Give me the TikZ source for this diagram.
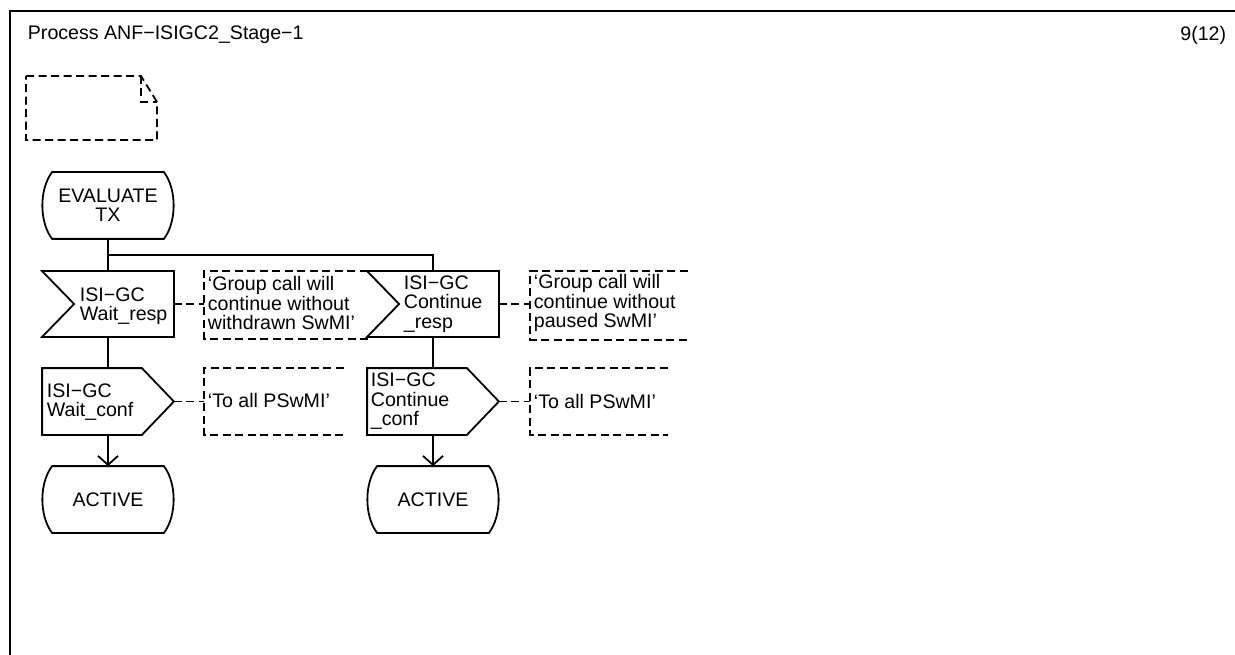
\documentclass[tikz,border=0pt]{standalone}
\usepackage{fontspec}
\setmainfont{Liberation Sans}
\usetikzlibrary{arrows.meta,calc}

\newcommand\sdlstate[1]{\draw ($(#1.north west)+(10,0)$) -- ($(#1.north east)+(-10,0)$) .. controls ($(#1.north east)+(3,17)$) and ($(#1.south east)+(3,-17)$) .. ($(#1.south east)+(-10,0)$) -- ($(#1.south west)+(10,0)$) .. controls ($(#1.south west)+(-3,-17)$) and ($(#1.north west)+(-3,17)$) .. cycle;}
\newcommand\sdlinput[1]{\draw (#1.north west) -- (#1.north east) -- (#1.south east) -- (#1.south west) -- ($(#1.west)+(32,0)$) -- cycle;}
\newcommand\sdloutput[1]{\draw (#1.north west) -- ($(#1.north east)+(-32,0)$) -- (#1.east) -- ($(#1.south east)+(-32,0)$) -- (#1.south west) -- cycle;}
\newcommand\sdlcomment[1]{\draw[cmt] (#1.north east) -- (#1.north west) -- (#1.south west) -- (#1.south east);}

\begin{document}
\begin{tikzpicture}[x=1pt,y=-1pt, line width=1.8pt,
  every node/.style={font=\fontsize{19.6}{19.5}\selectfont, inner sep=0pt},
  sym/.style={draw=none, minimum width=130pt, minimum height=65pt},
  insym/.style={sym, minimum height=64pt},
  cbox/.style={draw=none},
  txt/.style={align=left, anchor=west},
  cmt/.style={dash pattern=on 8pt off 4.5pt},
  arr/.style={-{Straight Barb[length=9pt,width=20pt]}}
]
\useasboundingbox (0,0) rectangle (1235,655);
% frame
\draw (10,655) -- (10,11) -- (1235,11);
\node[anchor=base west] (title) at (27,40) {Process ANF−ISIGC2\_Stage−1};
\node[anchor=base east] (page) at (1227,41) {9(12)};

% page symbol
\draw[cmt] (26,76) -- (141,76) -- (157,102) -- (157,140) -- (26,140) -- cycle;
\draw[cmt] (141,76) -- (141,102) -- (157,102);

% symbols
\node[sym] (ev) at (108,205.5) {};
\node[insym] (in1) at (108,304) {};
\node[sym] (out1) at (108,401.5) {};
\node[sym] (act1) at (108,499.5) {};
\node[insym] (in2) at (433,304) {};
\node[sym] (out2) at (433,401.5) {};
\node[sym] (act2) at (433,499.5) {};

\sdlstate{ev}
\sdlinput{in1}
\sdloutput{out1}
\sdlstate{act1}
\sdlinput{in2}
\sdloutput{out2}
\sdlstate{act2}

\node[align=center] (evt) at (ev.center) {EVALUATE\\TX};
\node[txt] (in1t) at (79,306) {ISI−GC\\Wait\_resp};
\node[txt] (out1t) at (46,402) {ISI−GC\\Wait\_conf};
\node (act1t) at (act1.center) {ACTIVE};
\node[txt] (in2t) at (403,304) {ISI−GC\\Continue\\\_resp};
\node[txt] (out2t) at (370,401.5) {ISI−GC\\Continue\\\_conf};
\node (act2t) at (act2.center) {ACTIVE};

% comments
\node[cbox, minimum width=162pt, minimum height=66pt] (c1) at (286,305) {};
\node[cbox, minimum width=156pt, minimum height=67pt] (c2) at (609,305.5) {};
\node[cbox, minimum width=138pt, minimum height=65pt] (c3) at (274,401.5) {};
\node[cbox, minimum width=136pt, minimum height=65pt] (c4) at (599,401.5) {};
\sdlcomment{c1}
\sdlcomment{c2}
\sdlcomment{c3}
\sdlcomment{c4}
\node[txt] (c1t) at (207,303) {‘Group call will\\continue without\\withdrawn SwMI’};
\node[txt] (c2t) at (533,303) {‘Group call will\\continue without\\paused SwMI’};
\node[txt] (c3t) at (207,400) {‘To all PSwMI’};
\node[txt] (c4t) at (533,401) {‘To all PSwMI’};

% connectors
\coordinate (br) at (108,255);
\draw (ev.south) -- (in1.north);
\draw (br) -| (in2.north);
\draw (in1.south) -- (out1.north);
\draw[arr] (out1.south) -- (act1.north);
\draw (in2.south) -- (out2.north);
\draw[arr] (out2.south) -- (act2.north);
\draw[cmt] (in1.east) -- (in1.east -| c1.west);
\draw[cmt] (in2.east) -- (in2.east -| c2.west);
\draw[cmt] (out1.east) -- (out1.east -| c3.west);
\draw[cmt] (out2.east) -- (out2.east -| c4.west);
\end{tikzpicture}
\end{document}
